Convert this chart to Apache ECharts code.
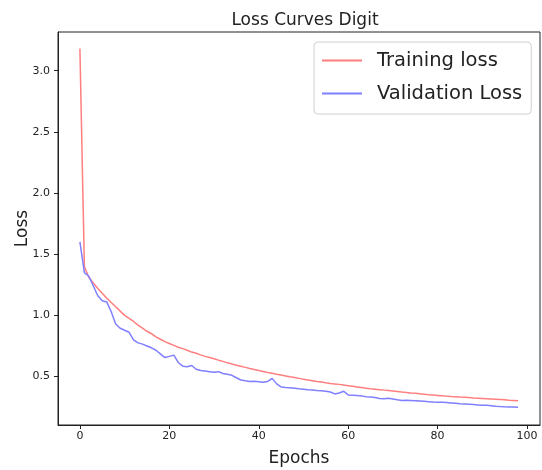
<!DOCTYPE html>
<html>
<head>
<meta charset="utf-8">
<script src="https://cdn.jsdelivr.net/npm/echarts@6/dist/echarts.min.js"></script>
<style>
  html, body { margin: 0; padding: 0; background: #fff; }
  #chart { width: 542px; height: 470px; }
</style>
</head>
<body>
<div id="chart"></div>
<script>
// epochs 0..98
const trainingLoss = [
  3.18, 1.40, 1.31, 1.265, 1.22, 1.18, 1.14, 1.105, 1.07, 1.035,
  1.00, 0.975, 0.95, 0.92, 0.895, 0.87, 0.85, 0.825, 0.805, 0.785,
  0.77, 0.755, 0.74, 0.728, 0.715, 0.70, 0.69, 0.677, 0.665, 0.655,
  0.645, 0.634, 0.624, 0.612, 0.602, 0.593, 0.584, 0.575, 0.566, 0.558,
  0.55, 0.541, 0.533, 0.527, 0.519, 0.512, 0.505, 0.498, 0.492, 0.485,
  0.478, 0.472, 0.466, 0.46, 0.455, 0.449, 0.444, 0.44, 0.436, 0.43,
  0.425, 0.42, 0.415, 0.41, 0.405, 0.40, 0.397, 0.393, 0.389, 0.385,
  0.381, 0.377, 0.373, 0.37, 0.366, 0.363, 0.36, 0.356, 0.352, 0.349,
  0.346, 0.343, 0.34, 0.337, 0.335, 0.332, 0.33, 0.328, 0.325, 0.323,
  0.321, 0.319, 0.317, 0.315, 0.313, 0.31, 0.307, 0.305, 0.302
];
const validationLoss = [
  1.60, 1.35, 1.32, 1.24, 1.16, 1.12, 1.11, 1.03, 0.93, 0.895,
  0.878, 0.862, 0.80, 0.775, 0.765, 0.75, 0.735, 0.715, 0.685, 0.655,
  0.665, 0.675, 0.615, 0.585, 0.58, 0.59, 0.56, 0.55, 0.545, 0.54,
  0.535, 0.54, 0.525, 0.518, 0.51, 0.49, 0.472, 0.465, 0.46, 0.462,
  0.458, 0.454, 0.46, 0.485, 0.44, 0.415, 0.41, 0.408, 0.405, 0.40,
  0.397, 0.393, 0.39, 0.386, 0.384, 0.38, 0.374, 0.358, 0.366, 0.38,
  0.35, 0.348, 0.345, 0.342, 0.335, 0.332, 0.328, 0.32, 0.318, 0.322,
  0.316, 0.31, 0.305, 0.306, 0.304, 0.302, 0.30, 0.298, 0.295, 0.292,
  0.29, 0.289, 0.287, 0.284, 0.281, 0.278, 0.276, 0.274, 0.271, 0.268,
  0.265, 0.266, 0.262, 0.258, 0.255, 0.253, 0.252, 0.251, 0.25
];
const xTicks = [0, 20, 40, 60, 80, 100];
const yTicks = [0.5, 1.0, 1.5, 2.0, 2.5, 3.0];

const font = "DejaVu Sans";
const ink = "#222";

const chart = echarts.init(document.getElementById("chart"));
const option = {
  animation: false,
  title: {
    text: "Loss Curves Digit",
    left: 300,
    top: 7,
    textAlign: "center",
    textStyle: { fontFamily: font, fontSize: 17, fontWeight: "normal", color: ink },
  },
  legend: {
    orient: "vertical",
    left: 314,
    top: 42,
    padding: [7, 9, 9, 8],
    itemWidth: 40,
    itemHeight: 2,
    itemGap: 10,
    icon: "rect",
    backgroundColor: "#fff",
    borderColor: "#d0d0d0",
    borderWidth: 1,
    borderRadius: 4,
    textStyle: { fontFamily: font, fontSize: 19.5, color: ink, lineHeight: 23, padding: [0, 0, 0, 10] },
    data: ["Training loss", "Validation Loss"],
  },
  grid: {
    left: 58,
    right: 2,
    top: 32,
    bottom: 45,
    containLabel: false,
    outerBoundsMode: "none",
    show: true,
    borderColor: ink,
    borderWidth: 1,
  },
  xAxis: {
    type: "value",
    min: -4.9,
    max: 102.9,
    name: "Epochs",
    nameLocation: "middle",
    nameGap: 25,
    nameMoveOverlap: false,
    nameTextStyle: { fontFamily: font, fontSize: 17, color: ink },
    axisLine: { show: true, onZero: false, lineStyle: { color: ink } },
    axisTick: { show: true, length: 4, customValues: xTicks, lineStyle: { color: ink } },
    axisLabel: { customValues: xTicks, margin: 6, fontFamily: font, fontSize: 11, color: ink },
    splitLine: { show: false },
  },
  yAxis: {
    type: "value",
    min: 0.104,
    max: 3.316,
    name: "Loss",
    nameLocation: "middle",
    nameGap: 27,
    nameMoveOverlap: false,
    nameTextStyle: { fontFamily: font, fontSize: 17, color: ink },
    axisLine: { show: true, onZero: false, lineStyle: { color: ink } },
    axisTick: { show: true, length: 4, customValues: yTicks, lineStyle: { color: ink } },
    axisLabel: {
      customValues: yTicks,
      margin: 8,
      fontFamily: font,
      fontSize: 11,
      color: ink,
      formatter: (v) => v.toFixed(1),
    },
    splitLine: { show: false },
  },
  series: [
    {
      name: "Training loss",
      type: "line",
      symbol: "none",
      color: "#ff7f7f",
      lineStyle: { width: 1.5, color: "#ff7f7f" },
      data: trainingLoss.map((v, i) => [i, v]),
    },
    {
      name: "Validation Loss",
      type: "line",
      symbol: "none",
      color: "#7f7fff",
      lineStyle: { width: 1.5, color: "#7f7fff" },
      data: validationLoss.map((v, i) => [i, v]),
    },
  ],
};
chart.setOption(option);
</script>
</body>
</html>
